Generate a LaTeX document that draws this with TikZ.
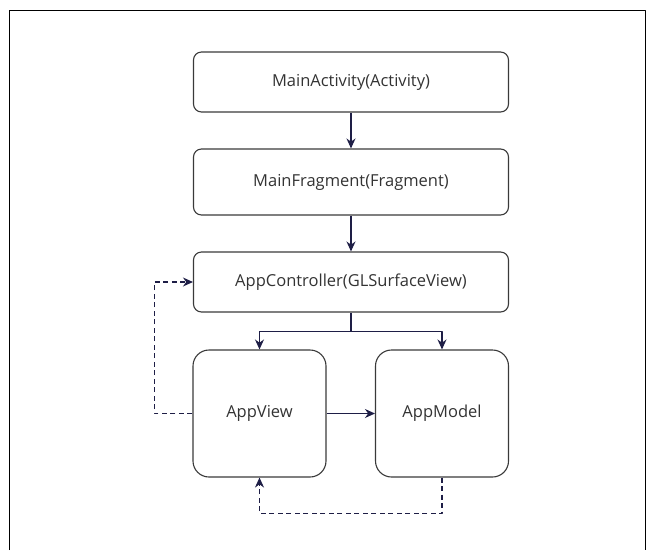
\documentclass[tikz,border=0pt]{standalone}
\usepackage{fontspec}
\setmainfont{Open Sans}
\usetikzlibrary{arrows.meta}
\definecolor{linknavy}{HTML}{1E1E46}
\definecolor{boxgray}{HTML}{3A3A3A}
\begin{document}
\begin{tikzpicture}[x=1pt,y=-1pt, font=\fontsize{16.5}{19}\selectfont, line join=round, >={Stealth[length=10pt,width=9pt]},
	box/.style={draw=boxgray, line width=1.1pt, rounded corners=8pt, text=black!80, minimum width=315pt, inner sep=0pt},
	bigbox/.style={box, rounded corners=16pt, minimum width=133pt, minimum height=127pt},
	link/.style={draw=linknavy, line width=1.2pt, ->},
	dlink/.style={link, dashed, dash pattern=on 5pt off 3.5pt}]
	\useasboundingbox (0,0) rectangle (651,550);
	\draw[line width=1pt] (9,550) -- (9,10) -- (645,10) -- (645,550);
	\node[box, minimum height=60pt] (act) at (351,82) {MainActivity(Activity)};
	\node[box, minimum height=66pt] (frag) at (351,182) {MainFragment(Fragment)};
	\node[box, minimum height=60pt] (ctrl) at (351,282) {AppController(GLSurfaceView)};
	\node[bigbox] (view) at (259.5,413.5) {AppView};
	\node[bigbox] (model) at (442,413.5) {AppModel};
	\draw[link] (act) -- (frag);
	\draw[link] (frag) -- (ctrl);
	\draw[link] (ctrl.south) -- ++(0,19) coordinate (split) -| (view.north);
	\draw[link] (split) -| (model.north);
	\draw[link] (view) -- (model);
	% dashed feedback lines
	\draw[dlink] (view.west) -- ++(-38,0) |- (ctrl.west);
	\draw[dlink] (model.south) -- ++(0,36) -| (view.south);
\end{tikzpicture}
\end{document}
